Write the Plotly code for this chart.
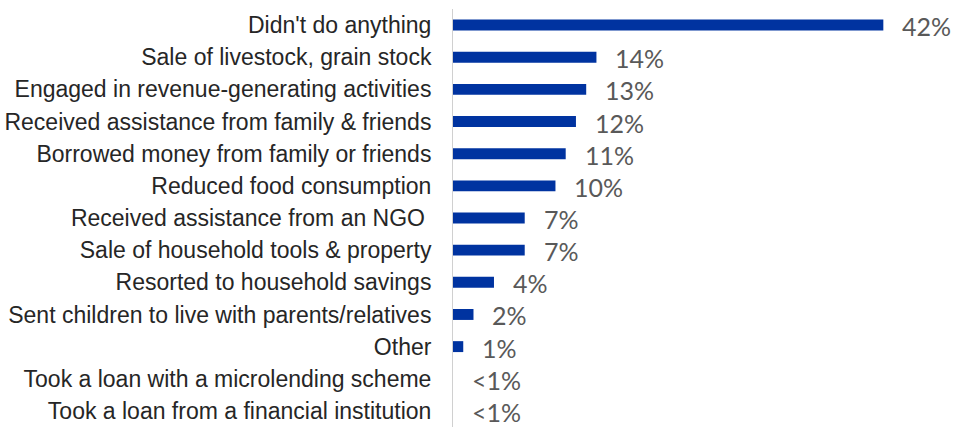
import plotly.graph_objects as go

# Household coping strategies, share of respondents (%)
categories = [
    "Didn't do anything",
    "Sale of livestock, grain stock",
    "Engaged in revenue-generating activities",
    "Received assistance from family & friends",
    "Borrowed money from family or friends",
    "Reduced food consumption",
    "Received assistance from an NGO ",
    "Sale of household tools & property",
    "Resorted to household savings",
    "Sent children to live with parents/relatives",
    "Other",
    "Took a loan with a microlending scheme",
    "Took a loan from a financial institution",
]
values = [42, 14, 13, 12, 11, 10, 7, 7, 4, 2, 1, 0, 0]
value_labels = ["42%", "14%", "13%", "12%", "11%", "10%", "7%", "7%", "4%", "2%", "1%", "<1%", "<1%"]

BAR_COLOR = "#0033A0"

fig = go.Figure(
    go.Bar(
        x=values,
        y=categories,
        orientation="h",
        marker=dict(color=BAR_COLOR, line=dict(width=0)),
        width=0.34,
        hoverinfo="skip",
    )
)

for cat, val, lab in zip(categories, values, value_labels):
    fig.add_annotation(
        x=val,
        y=cat,
        text=lab,
        showarrow=False,
        xanchor="left",
        yanchor="middle",
        xshift=17,
        yshift=-1,
        font=dict(family="Lato, 'Open Sans', sans-serif", size=25, color="#595959"),
    )

fig.update_layout(
    width=955,
    height=427,
    margin=dict(l=453, r=2, t=9, b=0),
    paper_bgcolor="white",
    plot_bgcolor="white",
    showlegend=False,
    bargap=0.66,
    xaxis=dict(
        range=[0, 48.8],
        showgrid=False,
        zeroline=False,
        showticklabels=False,
        showline=False,
        fixedrange=True,
    ),
    yaxis=dict(
        categoryorder="array",
        categoryarray=categories,
        range=[12.5, -0.5],
        showgrid=False,
        zeroline=False,
        showline=True,
        linecolor="#d0d0d0",
        linewidth=1,
        ticks="outside",
        ticklen=16,
        tickcolor="rgba(0,0,0,0)",
        tickfont=dict(family="'Liberation Sans', Arial, sans-serif", size=23, color="#262626"),
        fixedrange=True,
    ),
)

fig.write_html("out.html")
